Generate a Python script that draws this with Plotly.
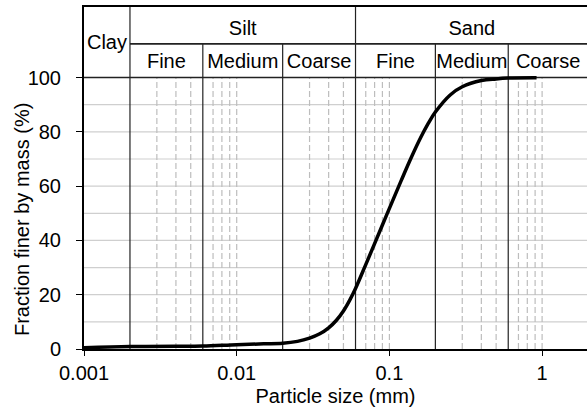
import math
import plotly.graph_objects as go

# Particle size distribution (mm, % finer)
size_mm = [0.001, 0.002, 0.004, 0.006, 0.01, 0.015, 0.02, 0.025, 0.03, 0.035, 0.04,
           0.045, 0.05, 0.055, 0.06, 0.07, 0.08, 0.09, 0.1,
           0.12, 0.14, 0.16, 0.18, 0.2,
           0.25, 0.3, 0.4, 0.5, 0.6, 0.92]
pct_finer = [0.5, 0.9, 1.0, 1.1, 1.6, 1.9, 2.1, 2.8, 4.0, 5.6, 7.8,
             10.6, 14.0, 18.0, 22.3, 31.1, 38.8, 45.7, 51.8,
             62.3, 70.9, 77.8, 83.2, 87.3,
             93.6, 96.6, 98.9, 99.5, 99.8, 99.9]

# Class boundaries (mm)
boundaries_full = [0.002, 0.06]          # span whole header
boundaries_sub = [0.006, 0.02, 0.2, 0.6]  # span to sub-row only
minor_dashed = [0.003, 0.004, 0.005, 0.007, 0.008, 0.009, 0.01,
                0.03, 0.04, 0.05, 0.07, 0.08, 0.09, 0.1,
                0.3, 0.4, 0.5, 0.7, 0.8, 0.9, 1.0]
h_grid = [10, 20, 30, 40, 50, 60, 70, 80, 90]

main_labels = ["Silt", "Sand"]
main_spans = [(0.002, 0.06), (0.06, 2.0)]
sub_labels = ["Fine", "Medium", "Coarse", "Fine", "Medium", "Coarse"]
sub_spans = [(0.002, 0.006), (0.006, 0.02), (0.02, 0.06),
             (0.06, 0.2), (0.2, 0.6), (0.6, 2.0)]

x_ticks = [0.001, 0.01, 0.1, 1]
x_ticktext = ["0.001", "0.01", "0.1", "1"]
y_ticks = [0, 20, 40, 60, 80, 100]
y_title = "Fraction finer by mass (%)"
x_title = "Particle size (mm)"

Y_TOP = 126.0
Y_ROW = 112.4
Y_MAIN_TXT = 117.6
Y_SUB_TXT = 105.4
Y_CLAY_TXT = 112.3
X_END = 2.0
FONT = "Liberation Sans, Arial, sans-serif"
FS = 20

def gmean(a, b):
    return math.sqrt(a * b)

fig = go.Figure()

# horizontal grid
gx, gy = [], []
for v in h_grid:
    gx += [0.001, X_END, None]
    gy += [v, v, None]
fig.add_trace(go.Scatter(x=gx, y=gy, mode="lines",
                         line=dict(color="#cfcfcf", width=1.2), hoverinfo="skip"))

# dashed minor verticals
dx, dy = [], []
for v in minor_dashed:
    dx += [v, v, None]
    dy += [0, 100, None]
fig.add_trace(go.Scatter(x=dx, y=dy, mode="lines",
                         line=dict(color="#bdbdbd", width=1.2, dash="6px,3px"), hoverinfo="skip"))

# solid boundaries
sx, sy = [], []
for v in boundaries_full:
    sx += [v, v, None]
    sy += [0, Y_TOP, None]
for v in boundaries_sub:
    sx += [v, v, None]
    sy += [0, Y_ROW, None]
fig.add_trace(go.Scatter(x=sx, y=sy, mode="lines",
                         line=dict(color="#222222", width=1.2), hoverinfo="skip"))

# header horizontal lines
fig.add_trace(go.Scatter(x=[0.001, X_END, None, 0.002, X_END],
                         y=[100, 100, None, Y_ROW, Y_ROW], mode="lines",
                         line=dict(color="#222222", width=1.6), hoverinfo="skip"))

# curve
fig.add_trace(go.Scatter(x=size_mm, y=pct_finer, mode="lines",
                         line=dict(color="black", width=3.5, shape="spline", smoothing=1.0)))

# header labels
tx = [gmean(*s) for s in main_spans] + [gmean(*s) for s in sub_spans] + [gmean(0.001, 0.002)]
ty = [Y_MAIN_TXT] * len(main_spans) + [Y_SUB_TXT] * len(sub_spans) + [Y_CLAY_TXT]
tt = main_labels + sub_labels + ["Clay"]
fig.add_trace(go.Scatter(x=tx, y=ty, text=tt, mode="text", cliponaxis=False,
                         textposition="middle center",
                         textfont=dict(family=FONT, size=FS, color="black"), hoverinfo="skip"))

# y-axis title centred on the 0-100 part of the axis
fig.add_annotation(text=y_title, xref="paper", yref="y", x=0, y=47.5,
                   xanchor="center", yanchor="middle", xshift=-62, textangle=-90,
                   showarrow=False, font=dict(family=FONT, size=FS, color="black"))

fig.update_layout(
    width=587, height=410,
    margin=dict(l=84, r=0, t=7, b=61),
    paper_bgcolor="white", plot_bgcolor="white",
    showlegend=False,
    font=dict(family=FONT, size=FS, color="black"),
    xaxis=dict(type="log", range=[-3, math.log10(1.968)],
               tickvals=x_ticks, ticktext=x_ticktext,
               ticks="outside", ticklen=5, tickcolor="black",
               showgrid=False, zeroline=False,
               showline=True, linecolor="black", linewidth=2, mirror=True,
               title=dict(text=x_title, standoff=6,
                          font=dict(family=FONT, size=FS))),
    yaxis=dict(range=[0, Y_TOP], tickvals=y_ticks,
               ticks="outside", ticklen=6, tickcolor="black",
               ticklabelstandoff=11,
               showgrid=False, zeroline=False,
               showline=True, linecolor="black", linewidth=2),
)

fig.write_html("out.html")
